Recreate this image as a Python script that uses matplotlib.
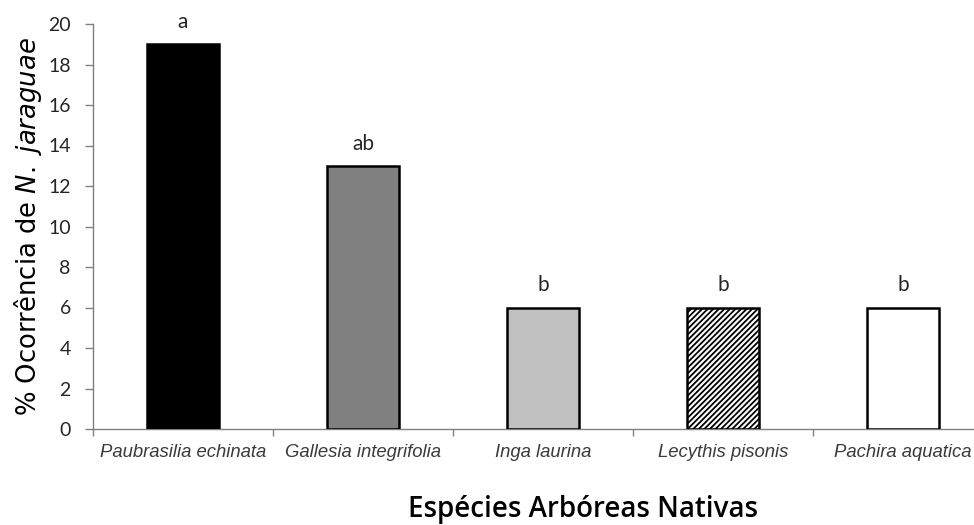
import matplotlib
matplotlib.use("Agg")
import matplotlib.pyplot as plt
import numpy as np

species = ["Paubrasilia echinata", "Gallesia integrifolia", "Inga laurina",
           "Lecythis pisonis", "Pachira aquatica"]
occurrence = [19, 13, 6, 6, 6]
groups = ["a", "ab", "b", "b", "b"]
y_ticks = [0, 2, 4, 6, 8, 10, 12, 14, 16, 18, 20]

fills = ["#000000", "#808080", "#c0c0c0", "#ffffff", "#ffffff"]
hatches = ["", "", "", "//////", ""]

plt.rcParams["mathtext.fontset"] = "custom"
plt.rcParams["mathtext.rm"] = "DejaVu Sans"
plt.rcParams["mathtext.it"] = "DejaVu Sans:italic"
plt.rcParams["hatch.linewidth"] = 1.3

fig = plt.figure(figsize=(9.74, 5.25), dpi=100)
W, H = 974, 525
left, right, bottom, top = 93, 993, 429, 24
ax = fig.add_axes([left / W, 1 - bottom / H, (right - left) / W, (bottom - top) / H])

x = np.arange(len(species))
ax.bar(x, occurrence, width=0.4, color=fills, edgecolor="black",
       linewidth=1.8, hatch=hatches, zorder=3)

for xi, v, g in zip(x, occurrence, groups):
    ax.text(xi, v + 0.6, g, ha="center", va="bottom", fontsize=15,
            family="Lato", color="#262626")

ax.set_xlim(-0.5, len(species) - 0.5)
ax.set_ylim(0, 20)
ax.set_yticks(y_ticks)
ax.set_yticklabels([str(t) for t in y_ticks], family="Lato", fontsize=14,
                   color="#262626")

ax.set_xticks(x)
ax.set_xticklabels(species, family="Liberation Sans", style="italic",
                   fontsize=13.3, color="#3a3a3a")
ax.tick_params(axis="x", length=0, pad=11)
ax.set_xticks(np.arange(-0.5, len(species), 1.0), minor=True)
ax.tick_params(axis="x", which="minor", length=5, color="#808080", width=1)
ax.tick_params(axis="y", length=6, color="#808080", width=1, pad=10)

for s in ["top", "right"]:
    ax.spines[s].set_visible(False)
for s in ["left", "bottom"]:
    ax.spines[s].set_color("#808080")
    ax.spines[s].set_linewidth(1)

ax.set_ylabel(r"% Ocorrência de $\mathit{N.\ jaraguae}$", family="DejaVu Sans",
              fontsize=18.6, color="#000000", labelpad=3)

fig.text(583 / W, 1 - 510 / H, "Espécies Arbóreas Nativas", ha="center",
         va="center", family="Open Sans", fontsize=20, weight="semibold",
         color="#000000")

fig.savefig("out.png", dpi=100)
